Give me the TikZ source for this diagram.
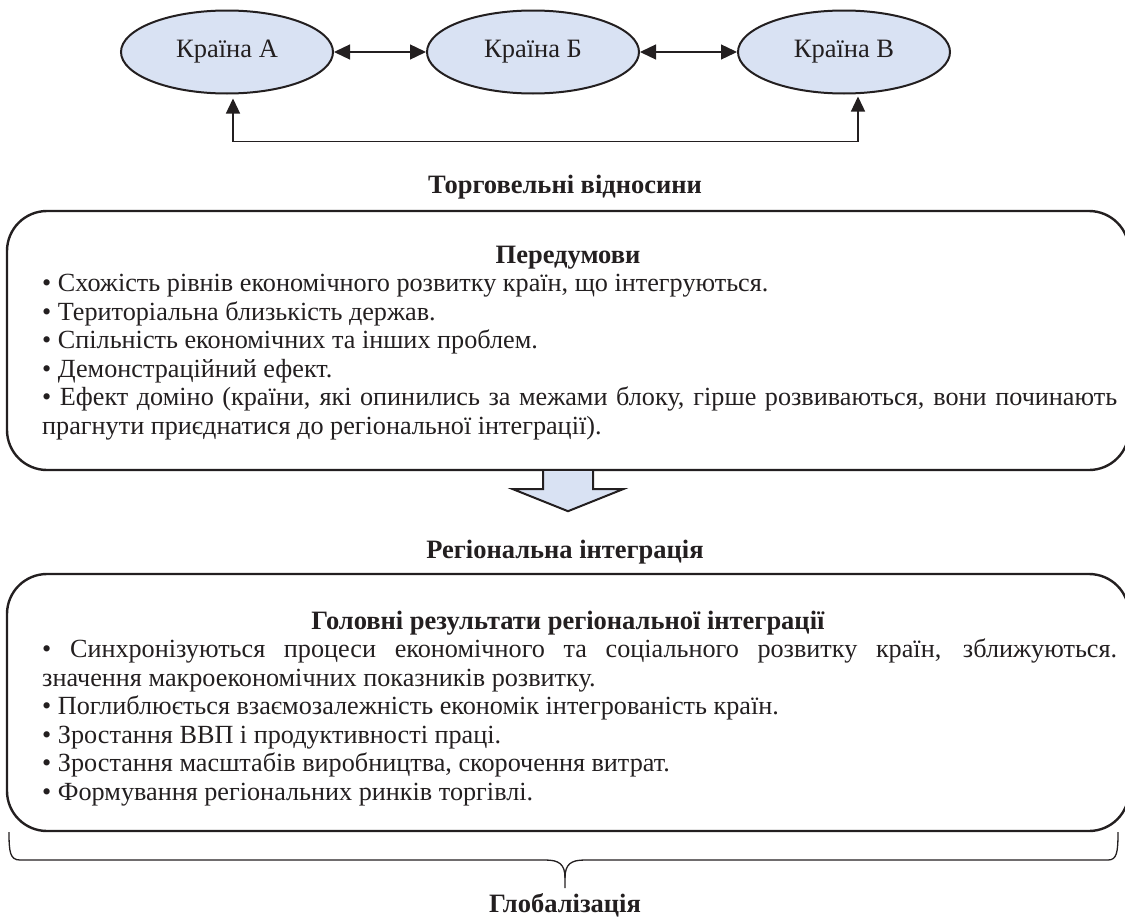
\documentclass[tikz,border=0pt]{standalone}
\usepackage{fontspec}
\setmainfont{Liberation Serif}
\usetikzlibrary{arrows.meta,shapes.geometric,calc}
\definecolor{fillblue}{HTML}{D9E2F3}
\definecolor{ink}{HTML}{231F20}
\tikzset{
  country/.style={ellipse, draw=ink, fill=fillblue, line width=2pt, minimum width=212pt, minimum height=83pt, inner sep=0pt, text=ink, font=\fontsize{26.5}{30}\selectfont},
  conn/.style={draw=ink, line width=1.3pt},
  bigbox/.style={draw=ink, line width=2.4pt, rounded corners=40pt, inner sep=0pt},
  heading/.style={inner sep=0pt, text=ink, font=\bfseries\fontsize{26.5}{28.6}\selectfont},
  body/.style={inner sep=0pt, text=ink, text width=1075pt, align=justify, font=\fontsize{26.2}{28.6}\selectfont},
  bigarrow/.style={draw=ink, fill=fillblue, line width=2pt, line join=miter},
  bracestyle/.style={draw=ink, line width=1.3pt}
}
\begin{document}
\begin{tikzpicture}[x=1pt,y=-1pt]
\useasboundingbox (0,0) rectangle (1125,918);
\clip (0,0) rectangle (1125,918);
\hyphenpenalty=10000 \exhyphenpenalty=10000

% countries
\node[country] (A) at (227,52) {Країна А};
\node[country] (B) at (533,52) {Країна Б};
\node[country] (V) at (844,52) {Країна В};

\draw[conn,{Triangle[length=16pt,width=15pt]}-{Triangle[length=16pt,width=15pt]}] (A.east) -- (B.west);
\draw[conn,{Triangle[length=16pt,width=15pt]}-{Triangle[length=16pt,width=15pt]}] (B.east) -- (V.west);

\coordinate (a1) at ($(A.south)+(6,4)$);
\coordinate (v1) at ($(V.south)+(14,2)$);
\draw[conn,{Triangle[length=15pt,width=14pt]}-{Triangle[length=15pt,width=14pt]}] (a1) -- ($(a1)+(0,43)$) -| (v1);

% first block
\node[heading, anchor=base] (t1) at (565,193) {Торговельні відносини};
\node[bigbox, minimum width=1122pt, minimum height=259pt] (box1) at (568,340.5) {};
\node[heading, anchor=base] (h1) at (568,263) {Передумови};
\node[body, anchor=base west] (b1) at (42,291.5) {%
• Схожість рівнів економічного розвитку країн, що інтегруються.\par
• Територіальна близькість держав.\par
• Спільність економічних та інших проблем.\par
• Демонстраційний ефект.\par
• Ефект доміно (країни, які опинились за межами блоку, гірше розвиваються, вони починають\linebreak
прагнути приєднатися до регіональної інтеграції).};

% big arrow
\draw[bigarrow] ($(box1.south)+(-25,0)$) -- ($(box1.south)+(-25,18)$) -- ($(box1.south)+(-55,18)$)
  -- ($(box1.south)+(0,40)$) -- ($(box1.south)+(55,18)$) -- ($(box1.south)+(25,18)$) -- ($(box1.south)+(25,0)$);

% second block
\node[heading, anchor=base] (t2) at (565,558) {Регіональна інтеграція};
\node[bigbox, minimum width=1122pt, minimum height=257pt] (box2) at (568,702.5) {};
\node[heading, anchor=base] (h2) at (568,629) {Головні результати регіональної інтеграції};
\node[body, anchor=base west] (b2) at (42,657.5) {%
• Синхронізуються процеси економічного та соціального розвитку країн, зближуються.\linebreak
значення макроекономічних показників розвитку.\par
• Поглиблюється взаємозалежність економік інтегрованість країн.\par
• Зростання ВВП і продуктивності праці.\par
• Зростання масштабів виробництва, скорочення витрат.\par
• Формування регіональних ринків торгівлі.};

% brace
\draw[bracestyle] (9,832) .. controls (9,852) and (10,860) .. (20,860) -- (545,860)
  .. controls (559,860) and (565,864) .. (565,878) -- (565,888);
\draw[bracestyle] (1118,832) .. controls (1118,852) and (1117,860) .. (1108,860) -- (585,860)
  .. controls (571,860) and (565,864) .. (565,878);
\node[heading, anchor=base] (t3) at (565,912) {Глобалізація};
\end{tikzpicture}
\end{document}
